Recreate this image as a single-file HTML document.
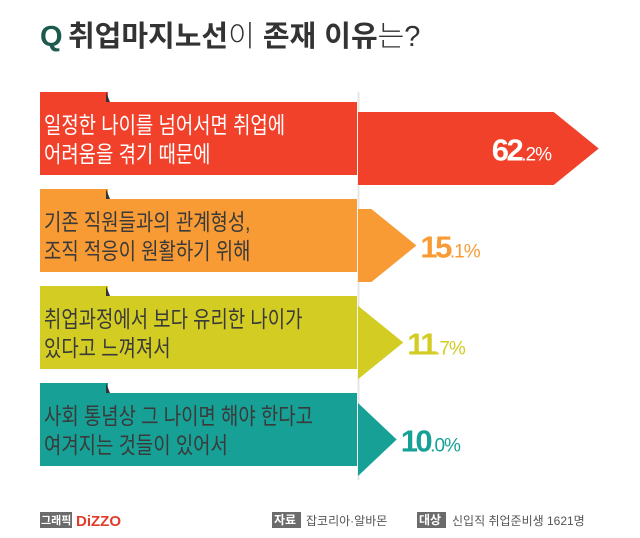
<!DOCTYPE html>
<html><head><meta charset="utf-8"><style>
body{margin:0;width:640px;height:538px;background:#fff;overflow:hidden;font-family:"Liberation Sans","Noto Sans CJK KR",sans-serif;}
svg{display:block}
</style></head><body>
<svg id="chart" width="640" height="538" viewBox="0 0 640 538" xmlns="http://www.w3.org/2000/svg">
<g>
<text x="40" y="46" font-size="29" font-weight="bold" fill="#1b5a4d" font-family="Liberation Sans, sans-serif">Q</text>
<text x="68" y="46" font-size="29" font-family="Liberation Sans, Noto Sans CJK KR, sans-serif" fill="#333"><tspan font-weight="bold">취업마지노선</tspan><tspan font-weight="300">이 </tspan><tspan font-weight="bold">존재 이유</tspan><tspan font-weight="300">는?</tspan></text>
</g>
<line x1="358.5" y1="92" x2="358.5" y2="480" stroke="#e6e6e6" stroke-width="2"/>
<g id="bars"></g>
<g font-family="Liberation Sans, Noto Sans CJK KR, sans-serif" font-size="11">
<rect x="40" y="512" width="32" height="16" fill="#6b6b6b"/>
<text x="41" y="524" fill="#fff" font-weight="bold">그래픽</text>
<text x="76" y="526" fill="#e03c2c" font-weight="bold" font-size="15">DiZZO</text>
<rect x="272" y="512" width="29" height="16" fill="#6b6b6b"/>
<text x="274" y="524" fill="#fff" font-weight="bold" font-size="12">자료</text>
<text x="306" y="525" fill="#555" font-size="12">잡코리아·알바몬</text>
<rect x="417" y="512" width="29" height="16" fill="#6b6b6b"/>
<text x="419" y="524" fill="#fff" font-weight="bold" font-size="12">대상</text>
<text x="452" y="525" fill="#555" font-size="12">신입직 취업준비생 1621명</text>
</g>
</svg>
<script>
const categories=[["일정한 나이를 넘어서면 취업에","어려움을 겪기 때문에"],["기존 직원들과의 관계형성,","조직 적응이 원활하기 위해"],["취업과정에서 보다 유리한 나이가","있다고 느껴져서"],["사회 통념상 그 나이면 해야 한다고","여겨지는 것들이 있어서"]];
const values=[62.2,15.1,11.7,10.0];
const colors=["#f2412b","#f89b35","#d3cc22","#16a096"];
const textColors=["#fff","#3a3a3a","#3a3a3a","#3a3a3a"];
const NS="http://www.w3.org/2000/svg";
const g=document.getElementById('bars');
const x0=358, k=3.87, head=45;
function xs(v){return x0+v*k;}
function mk(t,a,p){const e=document.createElementNS(NS,t);for(const q in a)e.setAttribute(q,a[q]);(p||g).appendChild(e);return e;}
values.forEach((v,i)=>{
  const top=92+i*97;
  const grp=mk('g',{});
  
  
  const tip=xs(v), sh=Math.max(x0,tip-head);
  const by=top+20, bh=73;
  const ar=mk('polygon',{points:`${x0},${by} ${sh},${by} ${tip},${by+bh/2} ${sh},${by+bh} ${x0},${by+bh}`,fill:colors[i]},grp);
  
  
  const tab=mk('rect',{x:40,y:top,width:68,height:12,fill:colors[i]},grp);
  
  
  mk('polygon',{points:`106,${top} 110,${top+10} 106,${top+10}`,fill:'#333'},grp);
  const box=mk('rect',{x:40,y:top+10,width:317,height:73,fill:colors[i]},grp);
  
  
  categories[i].forEach((line,j)=>{
    const t=mk('text',{x:0,y:0,transform:`translate(44,${top+41+j*29}) scale(0.82,1)`,'font-size':23,fill:textColors[i],'font-family':'Liberation Sans, Noto Sans CJK KR, sans-serif'},grp);
    t.textContent=line;
    
    
  });
  const s=v.toFixed(1).split('.');
  const vt=mk('text',{y:by+bh/2+12,'font-size':31,'font-weight':'bold','letter-spacing':'-2.5',fill:i==0?'#fff':colors[i],'font-family':'Liberation Sans, sans-serif'},grp);
  if(i==0){vt.setAttribute('x',551);vt.setAttribute('text-anchor','end');}else vt.setAttribute('x',tip+4);
  
  
  const a=mk('tspan',{},vt);a.textContent=s[0];
  const b=mk('tspan',{'font-size':19,'font-weight':'normal','letter-spacing':'-1'},vt);b.textContent='.'+s[1]+'%';
});
</script>
</body></html>
